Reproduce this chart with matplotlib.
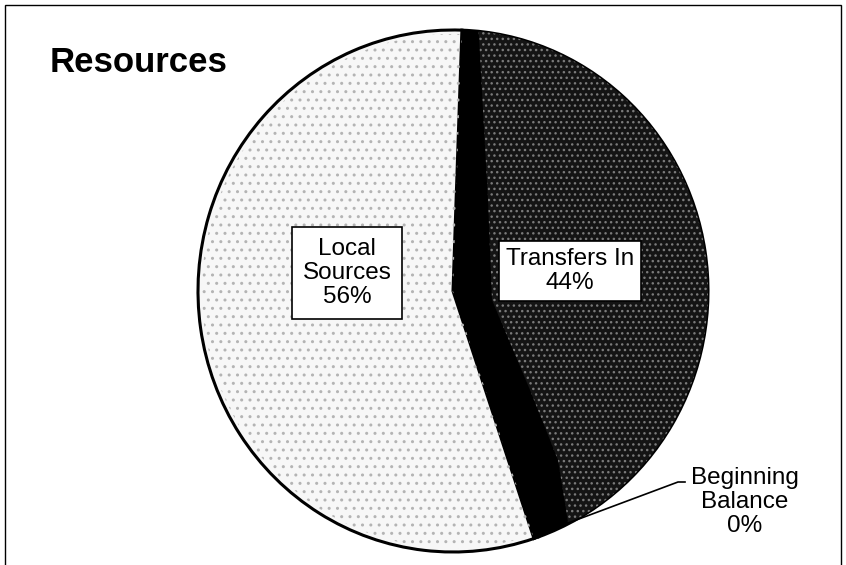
import numpy as np
import matplotlib.pyplot as plt
from matplotlib.patches import Wedge, Rectangle, Polygon

# Resource shares (percent of total)
labels = ["Transfers In", "Beginning Balance", "Local Sources"]
shares = [44.0, 0.3, 55.7]

W, H = 846, 565
cx, cy, rx, ry = 453, 291, 255, 261   # pie centre / radii in pixels

plt.rcParams['font.family'] = ['Liberation Sans', 'DejaVu Sans']
fig = plt.figure(figsize=(W / 100, H / 100), dpi=100)
fig.patch.set_facecolor('white')


def fx(x):
    return x / W


def fy(y):
    return 1 - y / H


def to_data(px, py):
    # pixel position -> pie axes coordinates
    return (px - cx) / rx, (cy - py) / ry


# page frame
fig.add_artist(Rectangle((fx(5), fy(572)), fx(836), 567 / H,
                         transform=fig.transFigure, fill=False,
                         edgecolor='black', linewidth=1.0))

ax = fig.add_axes([fx(cx - rx), fy(cy + ry), 2 * rx / W, 2 * ry / H])
wedges, _ = ax.pie(shares, startangle=88, counterclock=False,
                   colors=['black', 'black', '#f7f7f7'],
                   wedgeprops=dict(edgecolor='black', linewidth=2.2))
ax.set_aspect('auto')
ax.set_xlim(-1, 1)
ax.set_ylim(-1, 1)
for w in wedges:
    w.set_clip_on(False)

# stipple texture on the light slice
light = wedges[2]
dots = Wedge((0, 0), 0.985, light.theta1, light.theta2, facecolor='none',
             edgecolor='#b4b4b4', hatch='..', linewidth=0)
ax.add_patch(dots)

# dark stipple inside transfers slice, leaving a solid black band on its edges
edge_px = [(478, 20), (488, 200), (492, 300), (530, 390), (558, 460),
           (568, 522), (900, 640), (900, -60)]
dark = Polygon([to_data(*p) for p in edge_px], closed=True,
               facecolor='#141414', edgecolor='#7a7a7a', hatch='...',
               linewidth=0)
ax.add_patch(dark)
dark.set_clip_path(wedges[0])

# leader line for the tiny slice
bb = wedges[1]
mid = np.deg2rad((bb.theta1 + bb.theta2) / 2)
x0, y0 = np.cos(mid) * 0.99, np.sin(mid) * 0.99
x1, y1 = to_data(678, 482)
x2, _ = to_data(685, 482)
ax.plot([x0, x1, x2], [y0, y1, y1], color='black', linewidth=1.2,
        clip_on=False, zorder=5)

pct = [v / sum(shares) * 100 for v in shares]

box = dict(boxstyle='square,pad=0.3', facecolor='white', edgecolor='black',
           linewidth=1.2)
fig.text(fx(570), fy(271), f"{labels[0]}\n{pct[0]:.0f}%", ha='center',
         va='center', fontsize=17.5, linespacing=1.1, bbox=box)
fig.text(fx(347), fy(273), "Local\nSources\n" + f"{pct[2]:.0f}%",
         ha='center', va='center', fontsize=17.5, linespacing=1.1,
         bbox=dict(box, boxstyle='square,pad=0.45'))
fig.text(fx(745), fy(502), "Beginning\nBalance\n" + f"{pct[1]:.0f}%",
         ha='center', va='center', fontsize=17.5, linespacing=1.1)

fig.text(fx(50), fy(63), "Resources", ha='left', va='center',
         fontsize=25, fontweight='bold')

fig.savefig('out.png', dpi=100, facecolor='white')
